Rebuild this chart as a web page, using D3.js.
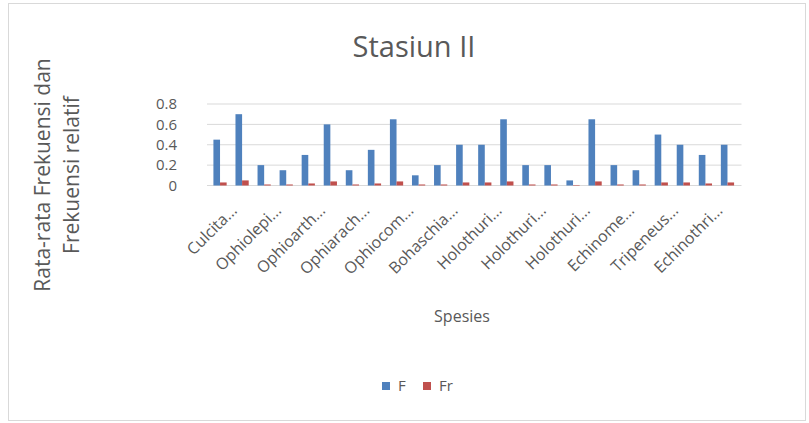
<!DOCTYPE html>
<html>
<head>
<meta charset="utf-8">
<script src="https://cdn.jsdelivr.net/npm/d3@7/dist/d3.min.js"></script>
<style>
  html, body { margin: 0; padding: 0; background: #fff; }
  svg { display: block; font-family: "Open Sans", "Noto Sans", sans-serif; }
</style>
</head>
<body>
<svg id="chart" width="809" height="423"></svg>
<script>
// Species (labels shortened as in the category axis)
const categories = [
  "Culcita...", "Protorea...", "Ophiolepi...", "Ophioma...", "Ophioarth...", "Ophiacti...",
  "Ophiarach...", "Ophiocom...", "Ophiocom...", "Ophiocom...", "Bohaschia...", "Bohaschia...",
  "Holothuri...", "Holothuri...", "Holothuri...", "Holothuri...", "Holothuri...", "Holothuri...",
  "Echinome...", "Diadema...", "Tripeneus...", "Echinothri...", "Echinothri...", "Echinothri..."
];
// Frekuensi (F)
const valuesF = [0.45, 0.70, 0.20, 0.15, 0.30, 0.60, 0.15, 0.35, 0.65, 0.10, 0.20, 0.40,
                 0.40, 0.65, 0.20, 0.20, 0.05, 0.65, 0.20, 0.15, 0.50, 0.40, 0.30, 0.40];
// Frekuensi relatif (Fr)
const valuesFr = [0.03, 0.05, 0.01, 0.01, 0.02, 0.04, 0.01, 0.02, 0.04, 0.01, 0.01, 0.03,
                  0.03, 0.04, 0.01, 0.01, 0.005, 0.04, 0.01, 0.01, 0.03, 0.03, 0.02, 0.03];
const seriesNames = ["F", "Fr"];
const seriesColors = ["#4f81bd", "#c0504d"];
const yTicks = [0, 0.2, 0.4, 0.6, 0.8];

const svg = d3.select("#chart");
const textColor = "#595959";
const gridColor = "#d9d9d9";

// chart area frame
svg.append("rect")
  .attr("x", 8.5).attr("y", 3.5).attr("width", 797).attr("height", 417)
  .attr("fill", "#fff").attr("stroke", gridColor);

// title
svg.append("text")
  .attr("x", 414).attr("y", 57)
  .attr("text-anchor", "middle")
  .attr("font-size", 29).attr("fill", textColor)
  .text("Stasiun II");

const plot = { left: 209, right: 738.5, top: 104, bottom: 185.5 };

const x = d3.scaleBand()
  .domain(d3.range(categories.length))
  .range([plot.left, plot.right])
  .paddingInner(0.4).paddingOuter(0.2);

const xSub = d3.scaleBand()
  .domain(seriesNames)
  .range([0, x.bandwidth()]);

const y = d3.scaleLinear().domain([0, 0.8]).range([plot.bottom, plot.top]);

// gridlines
const yAxis = d3.axisLeft(y).tickValues(yTicks).tickSize(0).tickPadding(0)
  .tickFormat(d => d === 0 ? "0" : d3.format(".1f")(d));
const gy = svg.append("g").attr("transform", `translate(${plot.left - 2},0)`);
gy.selectAll("line.grid").data(yTicks).join("line")
  .attr("class", "grid")
  .attr("x1", 0).attr("x2", plot.right + 3 - (plot.left - 2))
  .attr("y1", d => y(d)).attr("y2", d => y(d))
  .attr("stroke", gridColor).attr("stroke-width", 1);

// y tick labels
const gyl = svg.append("g").attr("transform", `translate(${177},0)`).call(yAxis);
gyl.select(".domain").remove();
gyl.selectAll("text").attr("font-size", 15).attr("fill", textColor)
  .attr("font-family", "'Open Sans', sans-serif");

// bars
const rows = categories.map((c, i) => ({ i, vals: [valuesF[i], valuesFr[i]] }));
const groups = svg.append("g").selectAll("g").data(rows).join("g")
  .attr("transform", d => `translate(${x(d.i)},0)`);
groups.selectAll("rect").data(d => d.vals.map((v, k) => ({ k, v })))
  .join("rect")
  .attr("x", d => xSub(seriesNames[d.k]))
  .attr("width", xSub.bandwidth())
  .attr("y", d => y(d.v))
  .attr("height", d => y(0) - y(d.v))
  .attr("fill", d => seriesColors[d.k]);

// category axis labels (every second category)
const xAxis = d3.axisBottom(x)
  .tickValues(d3.range(0, categories.length, 2))
  .tickFormat(i => categories[i])
  .tickSize(0).tickPadding(0);
const gx = svg.append("g").attr("transform", `translate(0,${plot.bottom})`).call(xAxis);
gx.select(".domain").remove();
gx.selectAll("text")
  .attr("font-size", 16).attr("fill", textColor)
  .attr("font-family", "'Open Sans', sans-serif")
  .attr("text-anchor", "end")
  .attr("y", 0).attr("dy", 0)
  .attr("transform", "translate(18,26) rotate(-45)");

// axis titles
const yTitle = svg.append("text")
  .attr("transform", "translate(43,175) rotate(-90)")
  .attr("text-anchor", "middle")
  .attr("font-size", 21).attr("fill", textColor);
yTitle.append("tspan").attr("x", 0).attr("y", 0).attr("dy", "0.35em").text("Rata-rata  Frekuensi dan");
yTitle.append("tspan").attr("x", 0).attr("y", 0).attr("dy", "1.7em").text("Frekuensi relatif");

svg.append("text")
  .attr("x", 462).attr("y", 322)
  .attr("text-anchor", "middle")
  .attr("font-size", 16).attr("fill", textColor)
  .text("Spesies");

// legend
const legendX = [382, 423];
const leg = svg.append("g").selectAll("g").data(seriesNames).join("g")
  .attr("transform", (d, i) => `translate(${legendX[i]},382)`);
leg.append("rect").attr("x", 0).attr("y", 0).attr("width", 8).attr("height", 8)
  .attr("fill", (d, i) => seriesColors[i]);
leg.append("text").attr("x", 16).attr("y", 4).attr("dy", "0.35em")
  .attr("font-size", 15).attr("fill", textColor)
  .text(d => d);
</script>
</body>
</html>
